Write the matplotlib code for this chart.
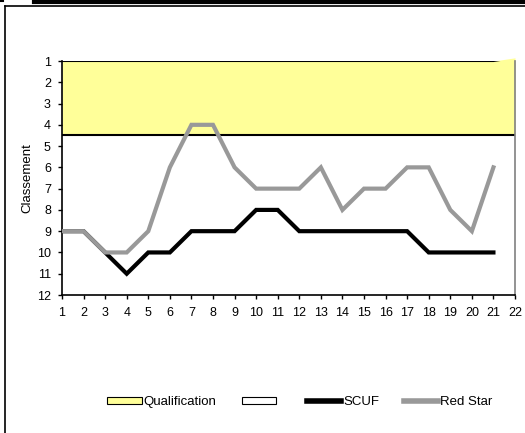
import numpy as np
import matplotlib
matplotlib.use('Agg')
import matplotlib.pyplot as plt
from matplotlib.patches import Patch
from matplotlib.lines import Line2D

plt.rcParams['font.family'] = ['Liberation Sans', 'DejaVu Sans']
plt.rcParams['font.size'] = 9

# journees
journees = list(range(1, 23))
# classement
scuf = [9, 9, 10, 11, 10, 10, 9, 9, 9, 8, 8, 9, 9, 9, 9, 9, 9, 10, 10, 10, 10]
red_star = [9, 9, 10, 10, 9, 6, 4, 4, 6, 7, 7, 7, 6, 8, 7, 7, 6, 6, 8, 9, 6]
# zones (stacked area: top of qualification, limit, bottom)
qual_top = [1] * 21 + [0.85]
qual_limit = [4.5] * 22
bas = [12] * 22

fig = plt.figure(figsize=(5.25, 4.33), dpi=100)
ax = fig.add_axes([62 / 525, 1 - 295 / 433, (515 - 62) / 525, (295 - 61) / 433])

x = np.array(journees)
ax.fill_between(x, qual_top, qual_limit, color='#FFFF99', lw=0, zorder=1, clip_on=False)
ax.plot(x, qual_top, color='black', lw=1.5, zorder=2, clip_on=True)
ax.plot(x, qual_limit, color='black', lw=1.5, zorder=2)
ax.fill_between(x, qual_limit, bas, color='white', lw=0, zorder=1)

ax.plot(journees[:len(scuf)], scuf, color='black', lw=3, zorder=3, solid_joinstyle='miter')
ax.plot(journees[:len(red_star)], red_star, color='#999999', lw=3, zorder=4, solid_joinstyle='miter')

ax.set_xlim(1, 22)
ax.set_ylim(12, 1)
ax.set_xticks(journees)
ax.set_yticks(range(1, 13))
ax.tick_params(direction='out', length=3, width=1, colors='black', labelsize=9)
ax.tick_params(axis='x', pad=6)
ax.tick_params(axis='y', pad=5)
ax.spines['top'].set_visible(False)
ax.spines['right'].set_color('#808080')
ax.spines['right'].set_linewidth(1.2)
ax.spines['left'].set_linewidth(1.2)
ax.spines['bottom'].set_linewidth(1.2)
ax.set_ylabel('Classement', fontsize=9.5)
ax.yaxis.set_label_coords(-0.064, 0.5)

handles = [
    Patch(facecolor='#FFFF99', edgecolor='black', lw=0.8, label='Qualification'),
    Patch(facecolor='white', edgecolor='black', lw=0.8, label=' '),
    Line2D([], [], color='black', lw=4, label='SCUF'),
    Line2D([], [], color='#999999', lw=4, label='Red Star'),
]
fig.legend(handles=handles, loc='center', bbox_to_anchor=(300 / 525, 1 - 402 / 433),
           ncol=4, frameon=False, handlelength=2.6, handleheight=0.45,
           handletextpad=0.15, columnspacing=1.9, fontsize=9.5)

# chart border
fig.add_artist(Line2D([5 / 525, 5 / 525], [0, 1 - 6 / 433], color='black', lw=1.2, transform=fig.transFigure))
fig.add_artist(Line2D([5 / 525, 1], [1 - 6 / 433, 1 - 6 / 433], color='black', lw=1.2, transform=fig.transFigure))
fig.add_artist(Line2D([34 / 525, 1], [1 - 1.5 / 433, 1 - 1.5 / 433], color='black', lw=3, transform=fig.transFigure))
fig.add_artist(Line2D([0, 3 / 525], [1 - 0.5 / 433, 1 - 0.5 / 433], color='black', lw=1.5, transform=fig.transFigure))

fig.savefig('out.png', dpi=100)
